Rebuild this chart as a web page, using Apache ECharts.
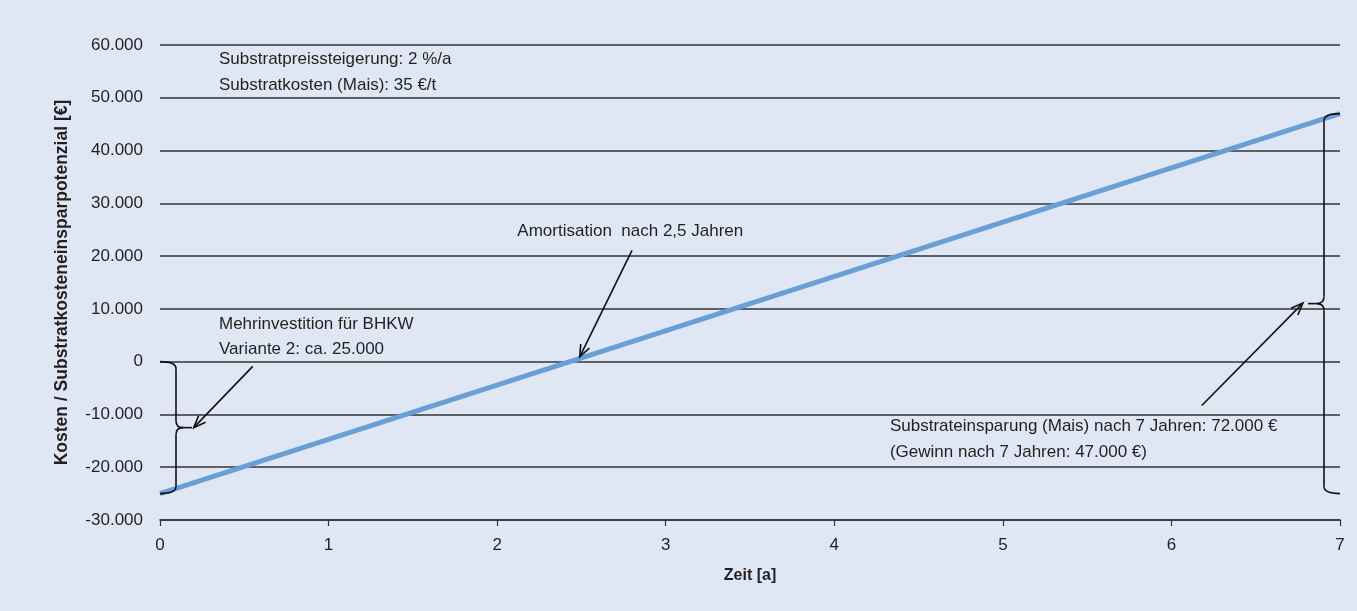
<!DOCTYPE html>
<html>
<head>
<meta charset="utf-8">
<script src="https://cdn.jsdelivr.net/npm/echarts@6/dist/echarts.min.js"></script>
<style>
  html, body { margin: 0; padding: 0; background: #dfe7f4; }
  #chart { width: 1357px; height: 611px; }
</style>
</head>
<body>
<div id="chart"></div>
<script>
// Cumulative balance (investment vs. substrate savings) over time
const years = [0, 7];
const balance = [-25000, 47000];

const yMin = -30000, yMax = 60000, yStep = 10000;
const xMin = 0, xMax = 7, xStep = 1;

const yAxisTitle = 'Kosten / Substratkosteneinsparpotenzial [€]';
const xAxisTitle = 'Zeit [a]';

// Annotation text lines: [label, x, y] in data units (left edge, vertical centre)
const notes = [
  ['Substratpreissteigerung: 2 %/a', 0.35, 57200],
  ['Substratkosten (Mais): 35 €/t', 0.35, 52300],
  ['Amortisation  nach 2,5 Jahren', 2.12, 24700],
  ['Mehrinvestition für BHKW', 0.35, 7000],
  ['Variante 2: ca. 25.000', 0.35, 2300],
  ['Substrateinsparung (Mais) nach 7 Jahren: 72.000 €', 4.33, -12300],
  ['(Gewinn nach 7 Jahren: 47.000 €)', 4.33, -17200]
];

// Arrows: [fromX, fromY, toX, toY]
const arrows = [
  [0.55, -900, 0.2, -12500],
  [2.80, 21100, 2.49, 900],
  [6.18, -8300, 6.78, 11100]
];

// Curly braces: [x, top, bottom, direction (+1 opens right, -1 opens left)]
const braces = [
  [0, 0, -25000, 1],
  [7, 47000, -25000, -1]
];

const FONT = '"Liberation Sans", Arial, sans-serif';
const INK = '#231f20';

function fmt(v) {
  const s = String(Math.abs(v)).replace(/\B(?=(\d{3})+(?!\d))/g, '.');
  return (v < 0 ? '-' : '') + s;
}

const chart = echarts.init(document.getElementById('chart'), null, { renderer: 'canvas' });

chart.setOption({
  backgroundColor: '#dfe7f4',
  animation: false,
  grid: { left: 160, right: 17, top: 45, bottom: 91, containLabel: false },
  xAxis: {
    type: 'value', min: xMin, max: xMax, interval: xStep,
    name: xAxisTitle, nameLocation: 'middle', nameGap: 48,
    nameTextStyle: { fontFamily: FONT, fontWeight: 'bold', fontSize: 16, color: INK },
    axisLine: { show: true, onZero: false, lineStyle: { color: '#333', width: 1.6 } },
    axisTick: { show: true, length: 6, lineStyle: { color: '#333', width: 1.2 } },
    axisLabel: { margin: 17, fontFamily: FONT, fontSize: 17, color: INK },
    splitLine: { show: false }
  },
  yAxis: {
    type: 'value', min: yMin, max: yMax, interval: yStep,
    name: yAxisTitle, nameLocation: 'middle', nameGap: 89, nameRotate: 90,
    nameTextStyle: { fontFamily: FONT, fontWeight: 'bold', fontSize: 17.5, color: INK },
    axisLine: { show: false },
    axisTick: { show: false },
    axisLabel: { margin: 17, fontFamily: FONT, fontSize: 17, color: INK, formatter: fmt },
    splitLine: { show: true, lineStyle: { color: '#333', width: 1.6 } }
  },
  series: [{
    type: 'line',
    data: years.map((y, i) => [y, balance[i]]),
    symbol: 'none',
    lineStyle: { color: '#6a9fd6', width: 5 },
    z: 3
  }]
});

function px(x, y) { return chart.convertToPixel({ gridIndex: 0 }, [x, y]); }

const graphics = [];
const stroke = { stroke: '#111', lineWidth: 1.6, fill: null };

function seg(x1, y1, x2, y2) {
  graphics.push({ type: 'line', z: 10, shape: { x1, y1, x2, y2 }, style: stroke });
}
function curve(x1, y1, cx, cy, x2, y2) {
  graphics.push({ type: 'bezierCurve', z: 10,
    shape: { x1, y1, x2, y2, cpx1: cx, cpy1: cy }, style: stroke });
}

notes.forEach(([t, x, y]) => {
  const p = px(x, y);
  graphics.push({
    type: 'text', x: p[0], y: p[1], z: 10,
    style: { text: t, fill: INK, font: '17px ' + FONT, textAlign: 'left', textVerticalAlign: 'middle' }
  });
});

arrows.forEach(([x1, y1, x2, y2]) => {
  const a = px(x1, y1), b = px(x2, y2);
  const ang = Math.atan2(b[1] - a[1], b[0] - a[0]);
  const L = 13, spread = 0.38;
  const h1 = [b[0] - L * Math.cos(ang - spread), b[1] - L * Math.sin(ang - spread)];
  const h2 = [b[0] - L * Math.cos(ang + spread), b[1] - L * Math.sin(ang + spread)];
  seg(a[0], a[1], b[0], b[1]);
  graphics.push({ type: 'polyline', z: 10, shape: { points: [h1, b, h2] }, style: stroke });
});

braces.forEach(([x, top, bot, dir]) => {
  const t = px(x, top), b = px(x, bot);
  const mid = (t[1] + b[1]) / 2;
  const x0 = t[0], sp = x0 + dir * 16, tip = x0 + dir * 32, r = 7;
  curve(x0, t[1], sp, t[1], sp, t[1] + r);
  seg(sp, t[1] + r, sp, mid - r);
  curve(sp, mid - r, sp, mid, sp + dir * r, mid);
  seg(sp + dir * r, mid, tip, mid);
  curve(sp + dir * r, mid, sp, mid, sp, mid + r);
  seg(sp, mid + r, sp, b[1] - r);
  curve(sp, b[1] - r, sp, b[1], x0, b[1]);
});

chart.setOption({ graphic: graphics });
</script>
</body>
</html>
